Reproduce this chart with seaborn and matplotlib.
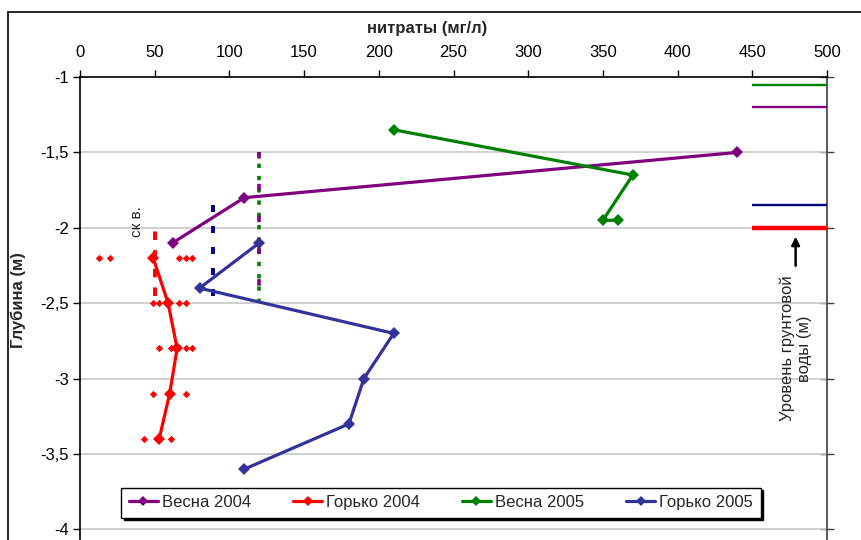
import numpy as np
import pandas as pd
import matplotlib
matplotlib.use('Agg')
import matplotlib.pyplot as plt
import seaborn as sns
from matplotlib.lines import Line2D

# Данные: нитраты (мг/л) по глубине (м)
vesna2004_x = [440, 110, 62]
vesna2004_y = [-1.5, -1.8, -2.1]
gorko2004_x = [49, 59, 65, 60, 53]
gorko2004_y = [-2.2, -2.5, -2.8, -3.1, -3.4]
vesna2005_x = [210, 370, 350, 360]
vesna2005_y = [-1.35, -1.65, -1.95, -1.95]
gorko2005_x = [120, 80, 210, 190, 180, 110]
gorko2005_y = [-2.1, -2.4, -2.7, -3.0, -3.3, -3.6]

# Отдельные пробы Горько 2004
proby_x = [13, 20, 66, 71, 75, 49, 53, 66, 71, 53, 61, 71, 75, 49, 71, 43, 61]
proby_y = [-2.2, -2.2, -2.2, -2.2, -2.2, -2.5, -2.5, -2.5, -2.5,
           -2.8, -2.8, -2.8, -2.8, -3.1, -3.1, -3.4, -3.4]

# Уровень грунтовой воды (м)
gw_series = ['Весна 2005', 'Весна 2004', 'Горько 2005', 'Горько 2004']
gw_levels = [-1.05, -1.2, -1.85, -2.0]

# вертикальные пунктиры (x, y_верх, y_низ)
skv_x = [50, 89, 120]
skv_top = [-2.0, -1.85, -1.5]
skv_bottom = [-2.45, -2.45, -2.5]

series = ['Весна 2004', 'Горько 2004', 'Весна 2005', 'Горько 2005']
colors = {'Весна 2004': '#800080', 'Горько 2004': '#FF0000',
          'Весна 2005': '#008000', 'Горько 2005': '#333399'}
gw_colors = {'Весна 2005': '#008000', 'Весна 2004': '#800080',
             'Горько 2005': '#000080', 'Горько 2004': '#FF0000'}

x_ticks = [0, 50, 100, 150, 200, 250, 300, 350, 400, 450, 500]
y_ticks = [-1, -1.5, -2, -2.5, -3, -3.5, -4]
y_tick_labels = ['-1', '-1,5', '-2', '-2,5', '-3', '-3,5', '-4']

frames = []
for name, xs, ys in [('Весна 2004', vesna2004_x, vesna2004_y),
                     ('Горько 2004', gorko2004_x, gorko2004_y),
                     ('Весна 2005', vesna2005_x, vesna2005_y),
                     ('Горько 2005', gorko2005_x, gorko2005_y)]:
    frames.append(pd.DataFrame({'нитраты': xs, 'глубина': ys, 'серия': name}))
df = pd.concat(frames, ignore_index=True)

sns.set_style('white')
plt.rcParams['font.family'] = ['Liberation Sans', 'DejaVu Sans']

fig = plt.figure(figsize=(8.61, 5.4), dpi=100)
ax = fig.add_axes([80 / 861, 0.0, 747 / 861, 1 - 77 / 540])

# горизонтальная сетка
ax.set_yticks(y_ticks)
ax.yaxis.grid(True, color='#C8C8C8', lw=1.2)
ax.set_axisbelow(True)

# пунктир ск в.
ax.vlines(skv_x[0], skv_bottom[0], skv_top[0], color='#FF0000', lw=2.8,
          linestyles=(0, (2.2, 2.6)))
ax.vlines(skv_x[1], skv_bottom[1], skv_top[1], color='#000080', lw=2.8,
          linestyles=(0, (1.8, 3.6)))
ax.vlines(skv_x[2], skv_bottom[2], skv_top[2], color='#008000', lw=2.6,
          linestyles=(0, (1.2, 2.2)))
ax.vlines(skv_x[2], skv_bottom[2], skv_top[2], color='#800080', lw=2.6,
          linestyles=(4, (1.8, 7.0)))

# пробы
ax.scatter(proby_x, proby_y, marker='D', s=14, color='#FF0000', linewidths=0,
           zorder=3)

# основные линии
for name in series:
    d = df[df['серия'] == name]
    sns.lineplot(x=d['нитраты'].values, y=d['глубина'].values, sort=False,
                 color=colors[name], lw=2.3, marker='D', markersize=6.5,
                 markeredgewidth=0, ax=ax, zorder=4)

# уровень грунтовой воды
for name, lvl in zip(gw_series, gw_levels):
    ax.hlines(lvl, 450, 500, color=gw_colors[name],
              lw=3.2 if name == 'Горько 2004' else 1.7, zorder=4)

ax.annotate('', xy=(479, -2.04), xytext=(479, -2.27),
            arrowprops=dict(arrowstyle='-|>', color='black', lw=1.8,
                            mutation_scale=12))
ax.text(479, -2.8, 'Уровень грунтовой\nводы (м)', rotation=90, ha='center',
        va='center', fontsize=12, multialignment='center')
ax.text(38, -1.96, 'ск в.', rotation=90, ha='center', va='center', fontsize=11)

ax.set_xlim(0, 500)
ax.set_ylim(-4.07, -1)
ax.set_xticks(x_ticks)
ax.set_yticklabels(y_tick_labels)
ax.xaxis.tick_top()
ax.tick_params(axis='x', top=True, bottom=False, direction='out', length=5,
               width=1, labelsize=12, pad=7, colors='black')
ax.tick_params(axis='y', left=True, right=False, direction='out', length=5,
               width=1, labelsize=12, pad=3, colors='black')
for sp in ['top', 'left']:
    ax.spines[sp].set_color('black')
    ax.spines[sp].set_linewidth(1.2)
ax.spines['bottom'].set_visible(False)
ax.spines['right'].set_color('#404040')
ax.spines['right'].set_linewidth(1.2)

sec = ax.secondary_yaxis('right')
sec.set_yticks(y_ticks)
sec.tick_params(direction='inout', length=10, width=1, labelright=False,
                colors='#404040')
sec.spines['right'].set_visible(False)

ax.set_xlabel('')
ax.set_ylabel('')
fig.text(427 / 861, 1 - 28 / 540, 'нитраты (мг/л)', ha='center', va='center',
         fontsize=12, fontweight='bold')
fig.text(18 / 861, 1 - 300 / 540, 'Глубина (м)', ha='center', va='center',
         rotation=90, fontsize=12, fontweight='bold')

handles = [Line2D([], [], color=colors[s], lw=2.3, marker='D', markersize=5,
                  markeredgewidth=0) for s in series]
leg = ax.legend(handles, series, loc='center', ncol=4,
                bbox_to_anchor=(441 / 861, 1 - 502.5 / 540),
                bbox_transform=fig.transFigure, fontsize=12, frameon=True,
                fancybox=False, edgecolor='black', framealpha=1,
                handlelength=1.75, handletextpad=0.25, columnspacing=2.5,
                borderpad=0.45, shadow={'color': 'black', 'alpha': 1})
leg.get_frame().set_linewidth(1)
leg.set_zorder(10)

# рамка диаграммы
fig.add_artist(Line2D([8 / 861, 1], [1 - 12 / 540, 1 - 12 / 540],
                      color='black', lw=1.2, transform=fig.transFigure))
fig.add_artist(Line2D([8 / 861, 8 / 861], [0, 1 - 12 / 540],
                      color='black', lw=1.2, transform=fig.transFigure))

fig.savefig('out.png', dpi=100)
